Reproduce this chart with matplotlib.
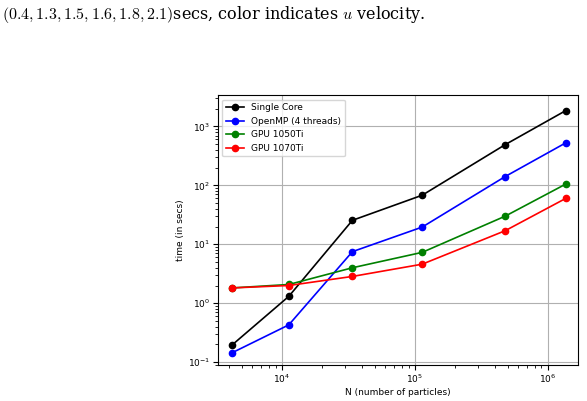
import matplotlib.pyplot as plt

n_particles = [4240, 11300, 34000, 114000, 480000, 1370000]
single_core = [0.197, 1.31, 25.5, 68, 490, 1850]
openmp = [0.145, 0.43, 7.5, 19.6, 141, 525]
gpu_1050 = [1.82, 2.08, 4.0, 7.3, 30, 105]
gpu_1070 = [1.82, 2.0, 2.85, 4.6, 17, 60]

plt.rcParams['mathtext.fontset'] = 'cm'

fig = plt.figure(figsize=(5.87, 4.01), dpi=100)
fig.text(0.003, 0.965, r"$(0.4, 1.3, 1.5, 1.6, 1.8, 2.1)$secs, color indicates $u$ velocity.",
         fontsize=11.5, family='DejaVu Serif', va='center', ha='left')

ax = fig.add_axes([0.371, 0.09, 0.614, 0.673])
series = [(single_core, 'k', 'Single Core'),
          (openmp, 'b', 'OpenMP (4 threads)'),
          (gpu_1050, 'g', 'GPU 1050Ti'),
          (gpu_1070, 'r', 'GPU 1070Ti')]
for vals, c, lab in series:
    ax.plot(n_particles, vals, '-o', color=c, label=lab, markersize=4.5, linewidth=1.2)

ax.set_xscale('log')
ax.set_yscale('log')
ax.set_xlim(3.3e3, 1.7e6)
ax.set_ylim(9e-2, 3.4e3)
ax.grid(True, which='major', color='#b0b0b0', linewidth=0.8)
ax.tick_params(labelsize=6.5, pad=2)
ax.set_xlabel('N (number of particles)', fontsize=6.5, labelpad=2)
ax.set_ylabel('time (in secs)', fontsize=6.5, labelpad=2)
ax.legend(loc='upper left', fontsize=6.5)

fig.savefig('out.png', dpi=100)
